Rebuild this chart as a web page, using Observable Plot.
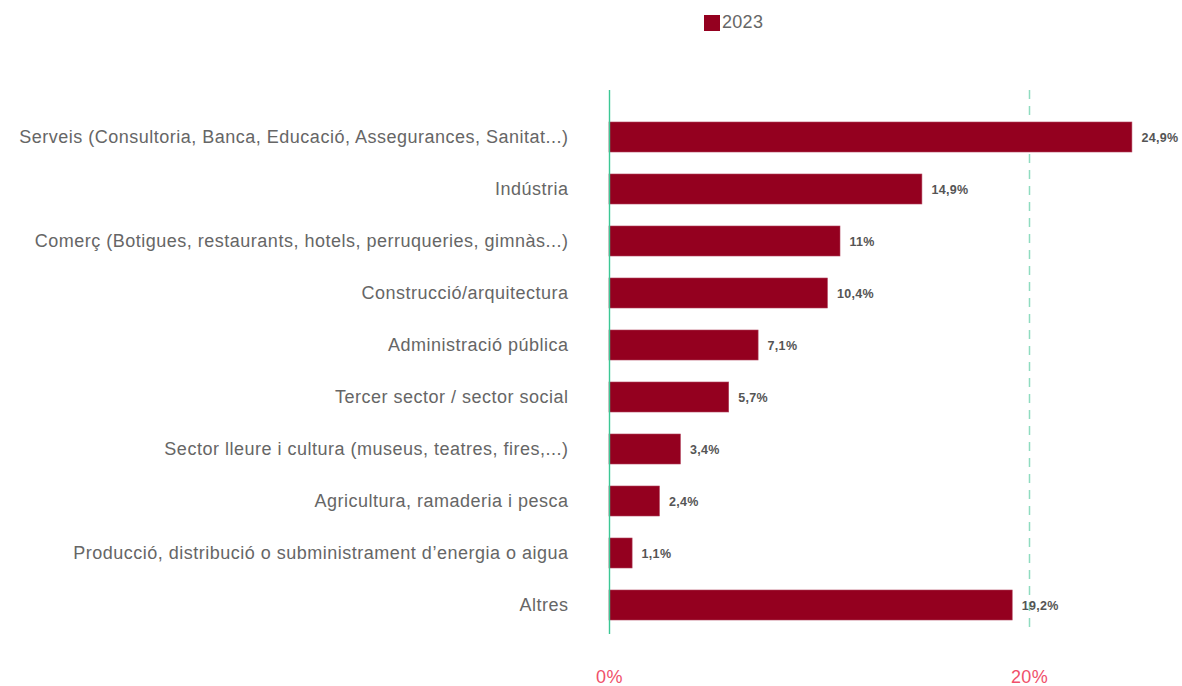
<!DOCTYPE html>
<html>
<head>
<meta charset="utf-8">
<script src="https://cdn.jsdelivr.net/npm/d3@7"></script>
<script src="https://cdn.jsdelivr.net/npm/@observablehq/plot@0.6"></script>
<style>
  body { margin: 0; background: #fff; font-family: "Liberation Sans", Arial, sans-serif; }
  #legend { height: 40px; position: relative; }
  #legend .sw { position: absolute; left: 704px; top: 15px; width: 16px; height: 16px; background: #94001f; }
  #legend .lb { position: absolute; left: 722px; top: 12px; font-size: 18px; color: #666; letter-spacing: 0.3px; }
  g[aria-label="y-axis tick label"] text { letter-spacing: 0.5px; }
  g[aria-label="x-axis tick label"] text { letter-spacing: 0.4px; }
  g[aria-label="text"] text { letter-spacing: 0.3px; }
</style>
</head>
<body>
<div id="legend"><span class="sw"></span><span class="lb">2023</span></div>
<div id="chart"></div>
<script>
const categories = [
  "Serveis (Consultoria, Banca, Educació, Assegurances, Sanitat...)",
  "Indústria",
  "Comerç (Botigues, restaurants, hotels, perruqueries, gimnàs...)",
  "Construcció/arquitectura",
  "Administració pública",
  "Tercer sector / sector social",
  "Sector lleure i cultura (museus, teatres, fires,...)",
  "Agricultura, ramaderia i pesca",
  "Producció, distribució o subministrament d’energia o aigua",
  "Altres"
];
const values2023 = [24.9, 14.9, 11, 10.4, 7.1, 5.7, 3.4, 2.4, 1.1, 19.2];
const xTicks = [0, 20];

const data = categories.map((c, i) => ({category: c, value: values2023[i]}));
const fmt = v => String(v).replace(".", ",") + "%";

const chart = Plot.plot({
  width: 1182,
  height: 646,
  marginLeft: 609,
  marginRight: 48,
  marginTop: 50,
  marginBottom: 52,
  style: {fontFamily: "Liberation Sans, Arial, sans-serif", background: "#fff"},
  x: {domain: [0, 25], axis: null},
  y: {domain: categories, range: [59, 603], padding: 0.42, axis: null},
  marks: [
    Plot.ruleX([20], {stroke: "#8fdcc0", strokeWidth: 1.5, strokeDasharray: "9,7"}),
    Plot.barX(data, {x: "value", y: "category", fill: "#94001f", stroke: "#b0405a", strokeWidth: 0.6}),
    Plot.ruleX([0], {stroke: "#3cc795", strokeWidth: 1.4}),
    Plot.text(data, {x: "value", y: "category", text: d => fmt(d.value), dx: 9, textAnchor: "start", fontWeight: "bold", fontSize: 12.5, fill: "#555"}),
    Plot.axisY({tickSize: 0, tickPadding: 41, fontSize: 18, color: "#666", label: null}),
    Plot.axisX(xTicks, {tickSize: 0, tickPadding: 36, fontSize: 18, color: "#f0506a", label: null, tickFormat: d => d + "%"})
  ]
});
document.getElementById("chart").appendChild(chart);
</script>
</body>
</html>
